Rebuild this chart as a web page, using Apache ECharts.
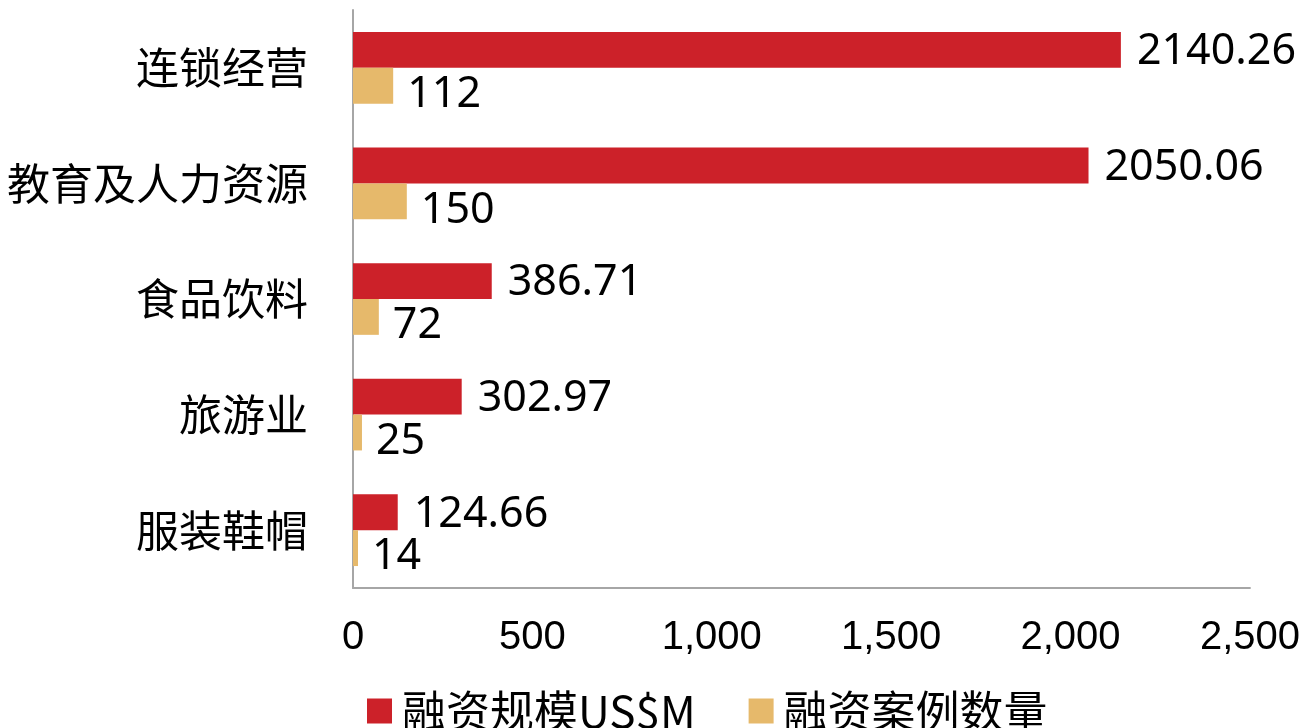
<!DOCTYPE html>
<html>
<head>
<meta charset="utf-8">
<script src="https://cdn.jsdelivr.net/npm/echarts@6/dist/echarts.min.js"></script>
<style>html,body{margin:0;padding:0;background:#fff}#c{width:1303px;height:728px}</style>
</head>
<body>
<div id="c"></div>
<script>
const categories = ['连锁经营', '教育及人力资源', '食品饮料', '旅游业', '服装鞋帽'];
const seriesNames = ['融资规模US$M', '融资案例数量'];
const fundingAmount = [2140.26, 2050.06, 386.71, 302.97, 124.66];
const dealCount = [112, 150, 72, 25, 14];
const xTicks = { min: 0, max: 2500, interval: 500 };

const chart = echarts.init(document.getElementById('c'), null, { renderer: 'canvas' });
const cjk = '"Noto Sans CJK SC", "Noto Sans", sans-serif';
chart.setOption({
  animation: false,
  backgroundColor: '#fff',
  grid: { left: 353, right: 51, top: 10, bottom: 140, containLabel: false },
  xAxis: {
    type: 'value', min: xTicks.min, max: xTicks.max, interval: xTicks.interval,
    axisLine: { show: true, lineStyle: { color: '#a6a6a6', width: 2 } },
    axisTick: { show: false },
    splitLine: { show: false },
    axisLabel: {
      margin: 30, color: '#000', fontSize: 40, fontFamily: '"Liberation Sans", Arial, sans-serif',
      formatter: v => v.toLocaleString('en-US')
    }
  },
  yAxis: {
    type: 'category', data: categories, inverse: true,
    axisLine: { show: true, lineStyle: { color: '#a6a6a6', width: 2 } },
    axisTick: { show: false },
    axisLabel: { margin: 45, color: '#000', fontSize: 43, fontFamily: cjk }
  },
  legend: {
    left: 362, top: 684, itemWidth: 25, itemHeight: 25, itemGap: 53,
    icon: 'rect',
    textStyle: { color: '#000', fontSize: 44, fontFamily: cjk, padding: [0, 0, 0, 5] },
    data: seriesNames
  },
  series: [
    {
      name: seriesNames[0], type: 'bar', data: fundingAmount,
      barGap: '0%', barCategoryGap: '38%',
      itemStyle: { color: '#cc2129' },
      label: { show: true, position: 'right', distance: 16, offset: [0, 2], color: '#000', fontSize: 43, fontFamily: '"Noto Sans", sans-serif' }
    },
    {
      name: seriesNames[1], type: 'bar', data: dealCount,
      barGap: '0%', barCategoryGap: '38%',
      itemStyle: { color: '#e6b96b' },
      label: { show: true, position: 'right', distance: 14, offset: [0, 9], color: '#000', fontSize: 43, fontFamily: '"Noto Sans", sans-serif' }
    }
  ]
});
</script>
</body>
</html>
